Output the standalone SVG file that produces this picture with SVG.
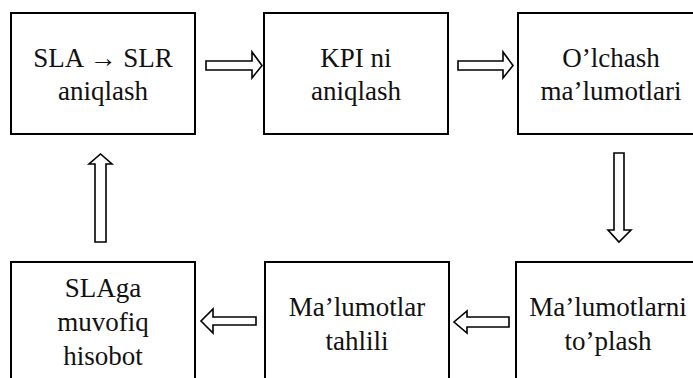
<svg xmlns="http://www.w3.org/2000/svg" width="693" height="378" viewBox="0 0 693 378">
<style>
.box{fill:#fff;stroke:#000;stroke-width:2}
.arr{fill:#fff;stroke:#000;stroke-width:1.6;stroke-linejoin:miter}
</style>
<rect width="693" height="378" fill="#fff"/>
<g font-family="Liberation Serif, Times New Roman, serif" font-size="27" fill="#111" text-anchor="middle">
<g id="n1"><rect class="box" x="11" y="13" width="184" height="121"/><text x="103" y="67">SLA → SLR</text><text x="103" y="100">aniqlash</text></g>
<g id="n2"><rect class="box" x="264" y="13" width="184" height="121"/><text x="356" y="67">KPI ni</text><text x="356" y="100">aniqlash</text></g>
<g id="n3"><rect class="box" x="518" y="13" width="184" height="121"/><text x="611" y="67">O’lchash</text><text x="611" y="100">ma’lumotlari</text></g>
<g id="n4"><rect class="box" x="516" y="262" width="184" height="130"/><text x="608" y="316">Ma’lumotlarni</text><text x="608" y="350">to’plash</text></g>
<g id="n5"><rect class="box" x="265" y="262" width="184" height="130"/><text x="357" y="316">Ma’lumotlar</text><text x="357" y="350">tahlili</text></g>
<g id="n6"><rect class="box" x="11" y="262" width="184" height="130"/><text x="103" y="297">SLAga</text><text x="103" y="331">muvofiq</text><text x="103" y="365">hisobot</text></g>
</g>
<g id="connectors">
<polygon class="arr" points="206,61 252,61 252,52 262,65.5 252,78 252,70 206,70"/>
<polygon class="arr" points="458,61 503,61 503,52 513,65.5 503,78 503,70 458,70"/>
<polygon class="arr" points="614,153 624,153 624,230 631,230 619,242 608,230 614,230"/>
<polygon class="arr" points="509,317 467,317 467,311 454,322 467,333 467,327 509,327"/>
<polygon class="arr" points="256,317 213,317 213,309 201,321 213,333 213,325 256,325"/>
<polygon class="arr" points="95,242 95,164 89,164 100.5,154 112,164 106,164 106,242"/>
</g>
</svg>
